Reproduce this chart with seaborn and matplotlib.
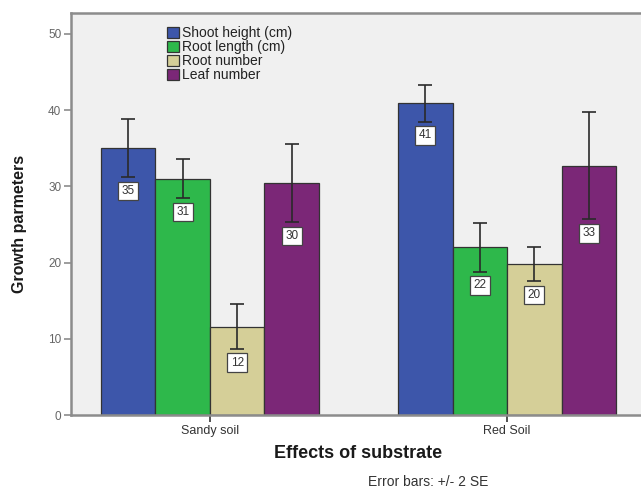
import numpy as np
import pandas as pd
import matplotlib
matplotlib.use("Agg")
import matplotlib.pyplot as plt
import seaborn as sns

# ── data ─────────────────────────────────────────────────────────────────────
substrates = ["Sandy soil", "Red Soil"]
parameters = ["Shoot height (cm)", "Root length (cm)", "Root number", "Leaf number"]
means = {
    "Shoot height (cm)": [35.0, 40.9],
    "Root length (cm)":  [31.0, 22.0],
    "Root number":       [11.6, 19.8],
    "Leaf number":       [30.4, 32.7],
}
two_se = {
    "Shoot height (cm)": [3.8, 2.4],
    "Root length (cm)":  [2.55, 3.2],
    "Root number":       [2.95, 2.25],
    "Leaf number":       [5.1, 7.05],
}

# ── style ────────────────────────────────────────────────────────────────────
COLORS = ["#3D56AA", "#2EB84B", "#D5CF98", "#7B2777"]
AX_BG = "#F0F0F0"
SPINE = "#8C8C8C"
EDGE = "#333333"

sns.set_style("white")
plt.rcParams["font.family"] = ["Liberation Sans", "DejaVu Sans"]

W, H = 641, 491
fig = plt.figure(figsize=(W / 100, H / 100), dpi=100, facecolor="white")
ax = fig.add_axes([71 / W, 1 - 415 / H, (646 - 71) / W, (415 - 13.3) / H])
ax.set_facecolor(AX_BG)

rows = []
for p in parameters:
    for i, s in enumerate(substrates):
        rows.append({"substrate": s, "param": p, "mean": means[p][i], "err": two_se[p][i]})
df = pd.DataFrame(rows)

sns.barplot(data=df, x="substrate", y="mean", hue="param", order=substrates,
            hue_order=parameters, palette=COLORS, width=0.734, errorbar=None,
            edgecolor=EDGE, linewidth=0.9, saturation=1, ax=ax)

# error bars + value boxes
for p, cont in zip(parameters, ax.containers):
    for i, bar in enumerate(cont):
        xc = bar.get_x() + bar.get_width() / 2
        m, e = means[p][i], two_se[p][i]
        ax.errorbar(xc, m, yerr=e, fmt="none", ecolor="#2A2A2A",
                    elinewidth=1.2, capsize=5, capthick=1.2, zorder=4)
        ax.text(xc, m - e - 1.8, f"{round(m):d}", ha="center", va="center",
                fontsize=8.5, color="#333333", zorder=5,
                bbox=dict(boxstyle="square,pad=0.28", facecolor="white",
                          edgecolor="#444444", linewidth=0.9))

ax.set_xlim(-0.468, 1.468)
ax.set_ylim(0, 52.7)
ax.set_yticks([0, 10, 20, 30, 40, 50])

for side in ["left", "bottom", "top", "right"]:
    ax.spines[side].set_color(SPINE)
    ax.spines[side].set_linewidth(1.8)

ax.tick_params(axis="y", direction="out", length=5, width=1.2, color=SPINE,
               labelsize=8.5, labelcolor="#666666", pad=2, left=True)
ax.tick_params(axis="x", direction="out", length=5, width=1.2, color="#333333",
               labelsize=9, labelcolor="#333333", pad=2, bottom=True)

ax.set_xlabel("Effects of substrate", fontsize=13, fontweight="bold",
              color="#1A1A1A", labelpad=6)
ax.set_ylabel("Growth parmeters", fontsize=11.5, fontweight="bold", color="#1A1A1A")
ax.yaxis.set_label_coords(-0.076, 0.475)

handles, labels = ax.get_legend_handles_labels()
ax.legend(handles, labels, loc="upper left", bbox_to_anchor=(167 / W, 1 - 26 / H),
          bbox_transform=fig.transFigure, frameon=False, fontsize=10,
          handlelength=0.85, handleheight=0.85, handletextpad=0.2,
          labelspacing=0.0, borderpad=0, borderaxespad=0, labelcolor="#222222")

fig.text(428 / W, 1 - 482 / H, "Error bars: +/- 2 SE", ha="center", va="center",
         fontsize=10, color="#333333")

fig.savefig("out.png", dpi=100, facecolor="white")
